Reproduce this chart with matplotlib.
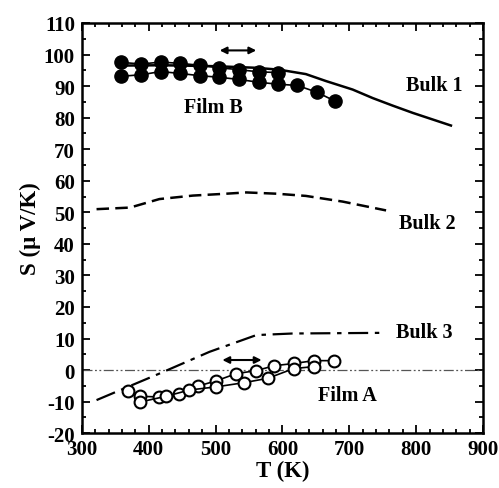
import matplotlib
matplotlib.use("Agg")
import matplotlib.pyplot as plt
from matplotlib.ticker import MultipleLocator

# Film B (filled circles), two runs
film_b_up_T = [359, 389, 418, 447, 476, 505, 535, 565, 593]
film_b_up_S = [97.5, 97.0, 97.6, 97.2, 96.6, 95.8, 95.2, 94.5, 94.3]
film_b_dn_T = [359, 389, 418, 447, 476, 505, 535, 565, 593, 622, 651, 679]
film_b_dn_S = [93.1, 93.6, 94.6, 94.0, 93.3, 92.8, 92.1, 91.2, 90.6, 90.2, 88.1, 85.2]

# Film A (open circles), two runs
film_a_up_T = [369, 387, 415, 445, 473, 501, 531, 560, 588, 617, 647, 677]
film_a_up_S = [-6.7, -8.3, -8.5, -7.7, -5.1, -3.4, -1.1, -0.2, 1.4, 2.1, 3.0, 3.0]
film_a_dn_T = [387, 426, 461, 501, 542, 578, 617, 647]
film_a_dn_S = [-10.1, -8.3, -6.3, -5.3, -4.0, -2.6, 0.5, 1.1]

# bulk curves
bulk1_T = [360, 420, 500, 560, 595, 635, 665, 705, 735, 765, 795, 852]
bulk1_S = [96.5, 96.6, 96.3, 95.8, 95.2, 93.8, 91.6, 88.9, 86.2, 83.8, 81.5, 77.5]
bulk2_T = [322, 372, 416, 466, 516, 546, 591, 635, 690, 755]
bulk2_S = [51.0, 51.5, 54.2, 55.3, 55.9, 56.3, 55.9, 55.2, 53.4, 50.6]
bulk3_T = [322, 416, 491, 561, 615, 745]
bulk3_S = [-9.5, -1.1, 5.8, 11.1, 11.6, 11.8]

plt.rcParams['font.family'] = ['Liberation Serif', 'DejaVu Serif']
plt.rcParams['font.weight'] = 'bold'
plt.rcParams['axes.unicode_minus'] = False

fig = plt.figure(figsize=(4.99, 4.89), dpi=100)
ax = fig.add_axes([0.164, 0.112, 0.804, 0.839])

# zero reference line
ax.axhline(0, color='#555555', lw=0.9, dashes=[8, 2, 1.5, 2, 1.5, 2])

ax.plot(bulk1_T, bulk1_S, '-', color='black', lw=1.8)
ax.plot(bulk2_T, bulk2_S, color='black', lw=1.8, dashes=[5, 2.5])
ax.plot(bulk3_T, bulk3_S, color='black', lw=1.6, dashes=[9, 3, 2, 3])

ax.plot(film_b_up_T, film_b_up_S, '-o', color='black', lw=1.2, ms=9.5,
        mfc='black', mec='black')
ax.plot(film_b_dn_T, film_b_dn_S, '-o', color='black', lw=1.2, ms=9.5,
        mfc='black', mec='black')
ax.plot(film_a_up_T, film_a_up_S, '-o', color='black', lw=1.2, ms=8.5,
        mfc='white', mec='black', mew=1.5)
ax.plot(film_a_dn_T, film_a_dn_S, '-o', color='black', lw=1.2, ms=8.5,
        mfc='white', mec='black', mew=1.5)

# heating/cooling arrows
ax.annotate('', xy=(565, 101.3), xytext=(502, 101.3),
            arrowprops=dict(arrowstyle='<|-|>', color='black', lw=1.5,
                            mutation_scale=10))
ax.annotate('', xy=(573, 3.2), xytext=(506, 3.2),
            arrowprops=dict(arrowstyle='<|-|>', color='black', lw=1.5,
                            mutation_scale=10))

lab = dict(fontsize=14.5, fontweight='bold', ha='center', va='center')
ax.text(827, 90.5, 'Bulk 1', **lab)
ax.text(497, 83.5, 'Film B', **lab)
ax.text(816, 46.5, 'Bulk 2', **lab)
ax.text(812, 12.0, 'Bulk 3', **lab)
ax.text(697, -8.0, 'Film A', **lab)

ax.set_xlim(300, 900)
ax.set_ylim(-20, 110)
ax.xaxis.set_major_locator(MultipleLocator(100))
ax.xaxis.set_minor_locator(MultipleLocator(20))
ax.yaxis.set_major_locator(MultipleLocator(10))
ax.yaxis.set_minor_locator(MultipleLocator(5))
ax.tick_params(which='both', direction='in', top=True, right=True,
               labelsize=15, width=1.3)
ax.tick_params(axis='y', pad=5)
ax.tick_params(axis='x', pad=4)
ax.tick_params(which='major', length=6)
ax.tick_params(which='minor', length=3)
for s in ax.spines.values():
    s.set_linewidth(1.8)

ax.set_xlabel('T (K)', fontsize=16.5, fontweight='bold', labelpad=1)
ax.set_ylabel('S (μ V/K)', fontsize=16.5, fontweight='bold', labelpad=2)

plt.savefig('out.png', dpi=100)
